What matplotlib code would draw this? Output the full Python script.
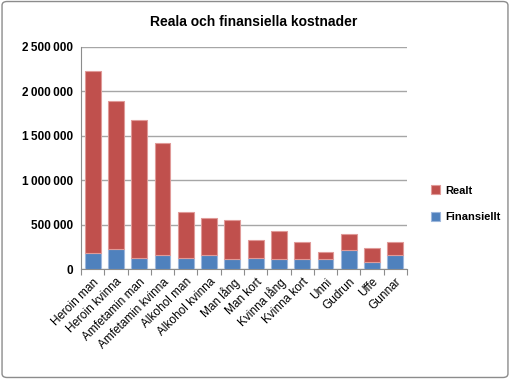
import numpy as np
import matplotlib
matplotlib.use('Agg')
import matplotlib.pyplot as plt
from matplotlib.patches import FancyBboxPatch
from matplotlib.ticker import FuncFormatter

# Data
categories = ["Heroin man", "Heroin kvinna", "Amfetamin man", "Amfetamin kvinna",
              "Alkohol man", "Alkohol kvinna", "Man lång", "Man kort", "Kvinna lång",
              "Kvinna kort", "Unni", "Gudrun", "Uffe", "Gunnar"]
finansiellt = [180000, 230000, 120000, 155000, 120000, 155000, 110000, 120000, 110000,
               110000, 110000, 210000, 75000, 160000]
totalt = [2230000, 1890000, 1680000, 1420000, 640000, 580000, 550000, 330000, 430000,
          310000, 190000, 395000, 240000, 300000]
realt = [t - f for t, f in zip(totalt, finansiellt)]

RED = '#C0504D'
BLUE = '#4F81BD'

plt.rcParams['font.family'] = ['Liberation Sans', 'DejaVu Sans']

fig = plt.figure(figsize=(5.10, 3.79), dpi=100)
# outer frame
fig.patches.append(FancyBboxPatch((0.004, 0.004), 0.992, 0.992, boxstyle="round,pad=0,rounding_size=0.01",
                                  transform=fig.transFigure, fill=False, edgecolor='#8c8c8c', lw=1))

ax = fig.add_axes([0.159, 0.290, 0.639, 0.586])
x = np.arange(len(categories))
w = 0.68
ax.bar(x, finansiellt, w, color=BLUE, edgecolor='#9db7dc', lw=0.8, label='Finansiellt', zorder=3)
ax.bar(x, realt, w, bottom=finansiellt, color=RED, edgecolor='#e09a98', lw=0.8, label='Realt', zorder=3)

ax.set_xlim(-0.5, len(categories) - 0.5)
ax.set_ylim(0, 2500000)
ax.set_yticks(np.arange(0, 2500001, 500000))
ax.yaxis.set_major_formatter(FuncFormatter(lambda v, p: f"{int(v):,}".replace(',', '\u2009') if v else '0'))
ax.yaxis.grid(True, color='#a6a6a6', lw=1, zorder=0)
for lbl in ax.get_yticklabels():
    lbl.set_fontweight('bold')
    lbl.set_fontsize(8.5)
ax.tick_params(axis='y', length=0, pad=6)

ax.set_xticks(np.arange(-0.5, len(categories), 1), minor=False)
ax.set_xticklabels([])
ax.set_xticks(x, minor=True)
ax.set_xticklabels(categories, minor=True, rotation=45, ha='right', rotation_mode='anchor', fontsize=8.5)
ax.tick_params(axis='x', which='major', length=4, color='#8c8c8c', direction='out')
ax.tick_params(axis='x', which='minor', length=0, pad=5)

for s in ['top', 'right']:
    ax.spines[s].set_visible(False)
ax.spines['left'].set_color('#8c8c8c')
ax.spines['bottom'].set_color('#8c8c8c')

fig.text(0.497, 0.942, "Reala och finansiella kostnader", ha='center', va='center',
         fontsize=10, fontweight='bold')

handles, labels = ax.get_legend_handles_labels()
fig.legend(handles[::-1], labels[::-1], loc='center left', bbox_to_anchor=(0.825, 0.462),
           frameon=False, prop={'weight': 'bold', 'size': 8}, handlelength=0.8, handleheight=0.8,
           labelspacing=1.5, handletextpad=0.5)

fig.savefig('out.png', dpi=100)
